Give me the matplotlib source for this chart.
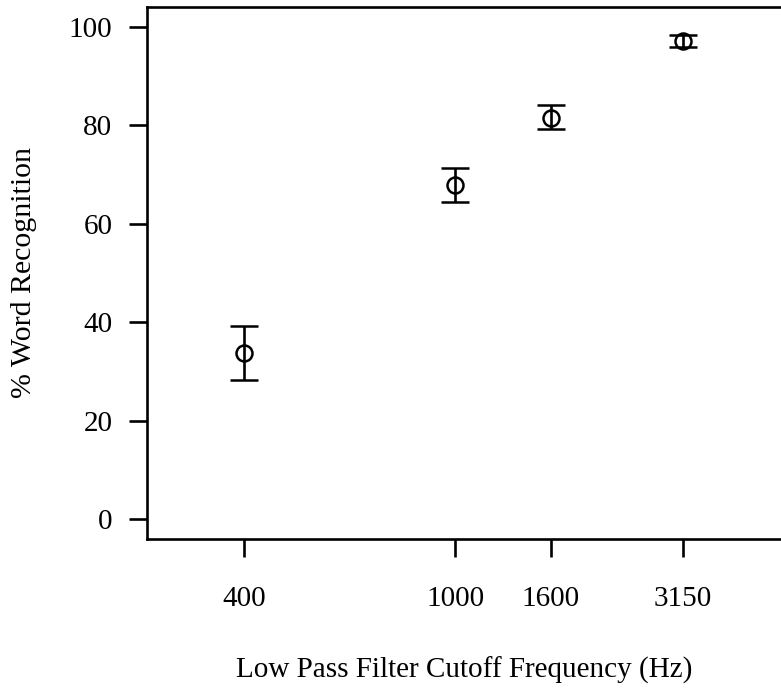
import numpy as np
import matplotlib
matplotlib.use("Agg")
import matplotlib.pyplot as plt

plt.rcParams["font.family"] = ["Liberation Serif", "DejaVu Serif"]

# data
freq = [400, 1000, 1600, 3150]
mean_pct = [33.8, 67.9, 81.5, 97.0]
lower_pct = [28.2, 64.4, 79.2, 95.8]
upper_pct = [39.2, 71.3, 84.0, 98.4]
xticks = [400, 1000, 1600, 3150]
yticks = [0, 20, 40, 60, 80, 100]

err = [np.array(mean_pct) - np.array(lower_pct), np.array(upper_pct) - np.array(mean_pct)]

fig = plt.figure(figsize=(7.81, 6.96), dpi=100)
ax = fig.add_axes([0.1882, 0.2256, 0.8118, 0.7644])

# compressed frequency axis (roughly log)
ax.set_xscale("function", functions=(lambda x: np.log10(np.maximum(x - 120, 1e-6)),
                                     lambda y: 10 ** y + 120))

ax.errorbar(freq, mean_pct, yerr=err, fmt="o", color="black", mfc="none",
            mec="black", ms=11.5, mew=1.8, elinewidth=1.9, capsize=10, capthick=1.9)

ax.set_xlim(285.5, 5272)
ax.set_ylim(-4, 104)
ax.set_xticks(xticks)
ax.set_xticklabels([str(t) for t in xticks])
ax.xaxis.set_minor_locator(matplotlib.ticker.NullLocator())
ax.set_yticks(yticks)

ax.spines["right"].set_visible(False)
for s in ["left", "bottom", "top"]:
    ax.spines[s].set_linewidth(1.9)

ax.tick_params(axis="both", direction="out", length=13, width=1.9, labelsize=21)
ax.tick_params(axis="y", pad=12)
ax.tick_params(axis="x", pad=21)

ax.set_xlabel("Low Pass Filter Cutoff Frequency (Hz)", fontsize=21, labelpad=32)
ax.set_ylabel("% Word Recognition", fontsize=21.5, labelpad=23)

fig.savefig("out.png", dpi=100)
